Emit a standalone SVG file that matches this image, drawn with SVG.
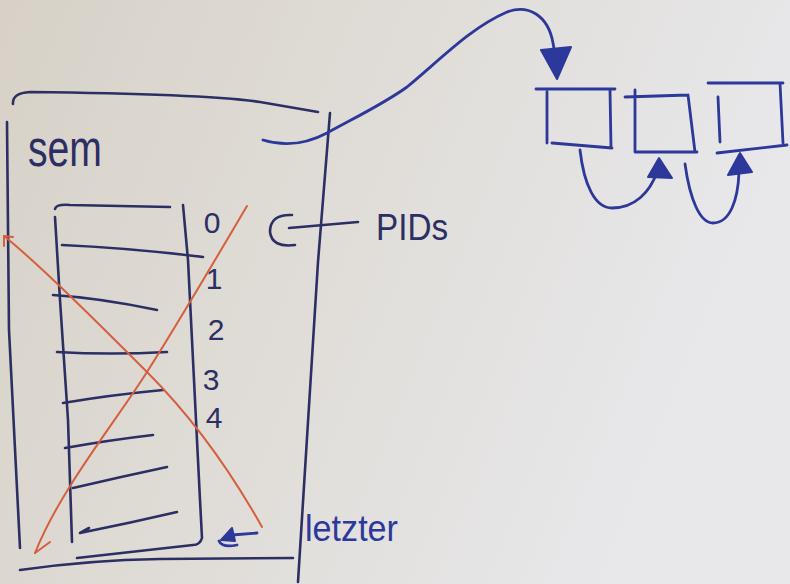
<svg xmlns="http://www.w3.org/2000/svg" width="790" height="584" viewBox="0 0 790 584">
  <defs>
    <linearGradient id="bg" x1="0" y1="0" x2="1" y2="0.3">
      <stop offset="0" stop-color="#d7d1c7"/>
      <stop offset="0.5" stop-color="#e0ddd8"/>
      <stop offset="1" stop-color="#e8e8eb"/>
    </linearGradient>
    <style>
      .ink { fill: none; stroke: #2b2f63; stroke-width: 2.6; stroke-linecap: round; stroke-linejoin: round; }
      .blue { fill: none; stroke: #2c389a; stroke-width: 2.8; stroke-linecap: round; stroke-linejoin: round; }
      .bluefill { fill: #2c389a; stroke: #2c389a; stroke-width: 2; stroke-linejoin: round; }
      .red { fill: none; stroke: #d65e3e; stroke-width: 2; stroke-linecap: round; stroke-linejoin: round; }
      .txt { font-family: "Liberation Sans", "DejaVu Sans", sans-serif; fill: #2b2f63; }
      .btxt { font-family: "Liberation Sans", "DejaVu Sans", sans-serif; fill: #2c389a; }
      .num { font-family: "Liberation Sans", "DejaVu Sans", sans-serif; fill: #2b2f63; font-size: 30px; text-anchor: middle; }
    </style>
  </defs>
  <rect width="790" height="584" fill="url(#bg)"/>

  <g id="sem-container">
    <path class="ink" d="M13,104 Q12,93 30,92 C120,93 220,96 260,102 Q295,108 318,112"/>
    <path class="ink" d="M7,122 L9,330 L20,548"/>
    <path class="ink" d="M330,113 L318,262 L298,582"/>
    <path class="ink" d="M20,570 Q90,560 160,559 L293,558"/>
    <text class="txt" x="28" y="166" font-size="52" textLength="74" lengthAdjust="spacingAndGlyphs">sem</text>
  </g>

  <g id="stack">
    <path class="ink" d="M55,209 Q56,204 70,205 L170,207"/>
    <path class="ink" d="M55,217 L60,300 L68,420 L72,542"/>
    <path class="ink" d="M183,205 L188,260 L200,500 L202,538 Q200,545 193,545 L77,558"/>
    <path class="ink" d="M62,245 Q130,248 203,257"/>
    <path class="ink" d="M53,295 Q100,298 157,310"/>
    <path class="ink" d="M57,352 Q110,355 167,352"/>
    <path class="ink" d="M63,403 Q110,395 163,390"/>
    <path class="ink" d="M65,448 Q110,440 153,435"/>
    <path class="ink" d="M73,488 Q120,477 167,467"/>
    <path class="ink" d="M80,533 Q130,523 177,512 M80,533 L89,528"/>
    <text class="num" x="212" y="233" font-size="26">0</text>
    <text class="num" x="214" y="289">1</text>
    <text class="num" x="216" y="340">2</text>
    <text class="num" x="211" y="390" font-size="36">3</text>
    <text class="num" x="214" y="428" font-size="34">4</text>
  </g>

  <g id="cross-out">
    <path class="red" d="M4,236 C40,265 100,325 147,372 S230,470 262,527"/>
    <path class="red" d="M4,236 L4,246 M4,236 L13,237"/>
    <path class="red" d="M247,206 C215,260 180,320 147,372 S60,490 35,553"/>
    <path class="red" d="M35,553 L50,542"/>
  </g>

  <g id="pids-label">
    <text class="txt" x="376" y="240" font-size="36" textLength="72" lengthAdjust="spacingAndGlyphs">PIDs</text>
  </g>

  <g id="letzter-label">
    <text class="btxt" x="305" y="541" font-size="36" textLength="93" lengthAdjust="spacingAndGlyphs">letzter</text>
  </g>

  <g id="node-1">
    <path class="blue" d="M536,89 L615,89 M547,92 L547,143 M610,90 L611,148 M552,143 L612,148"/>
  </g>
  <g id="node-2">
    <path class="blue" d="M625,97 L688,95 M635,90 L635,152 M688,95 L695,152 M635,152 L697,152"/>
  </g>
  <g id="node-3">
    <path class="blue" d="M708,83 L783,83 M718,97 L720,142 M780,83 L783,143 M717,153 L787,145"/>
  </g>

  <g id="connectors">
    <path class="blue" d="M263,140 Q295,150 327,133 C360,115 385,103 407,87 C440,60 470,28 507,12 C528,4 548,15 553,43 L556,60"/>
    <path class="bluefill" d="M541,50 L571,47 L557,79 Z"/>
    <path class="blue" d="M580,150 C584,185 595,208 612,208 C635,208 650,192 657,172"/>
    <path class="bluefill" d="M648,177 L672,178 L659,158 Z"/>
    <path class="blue" d="M685,164 C690,200 700,223 713,223 C730,223 738,200 739,172"/>
    <path class="bluefill" d="M728,175 L752,172 L740,153 Z"/>
    <path class="ink" d="M292,215 Q270,214 270,232 Q272,248 295,245 M289,228 L358,222"/>
    <path class="bluefill" d="M232,528 L221,540 L235,541 Z"/>
    <path class="blue" d="M219,541 Q222,548 237,545 M232,535 L257,533"/>
  </g>
</svg>
